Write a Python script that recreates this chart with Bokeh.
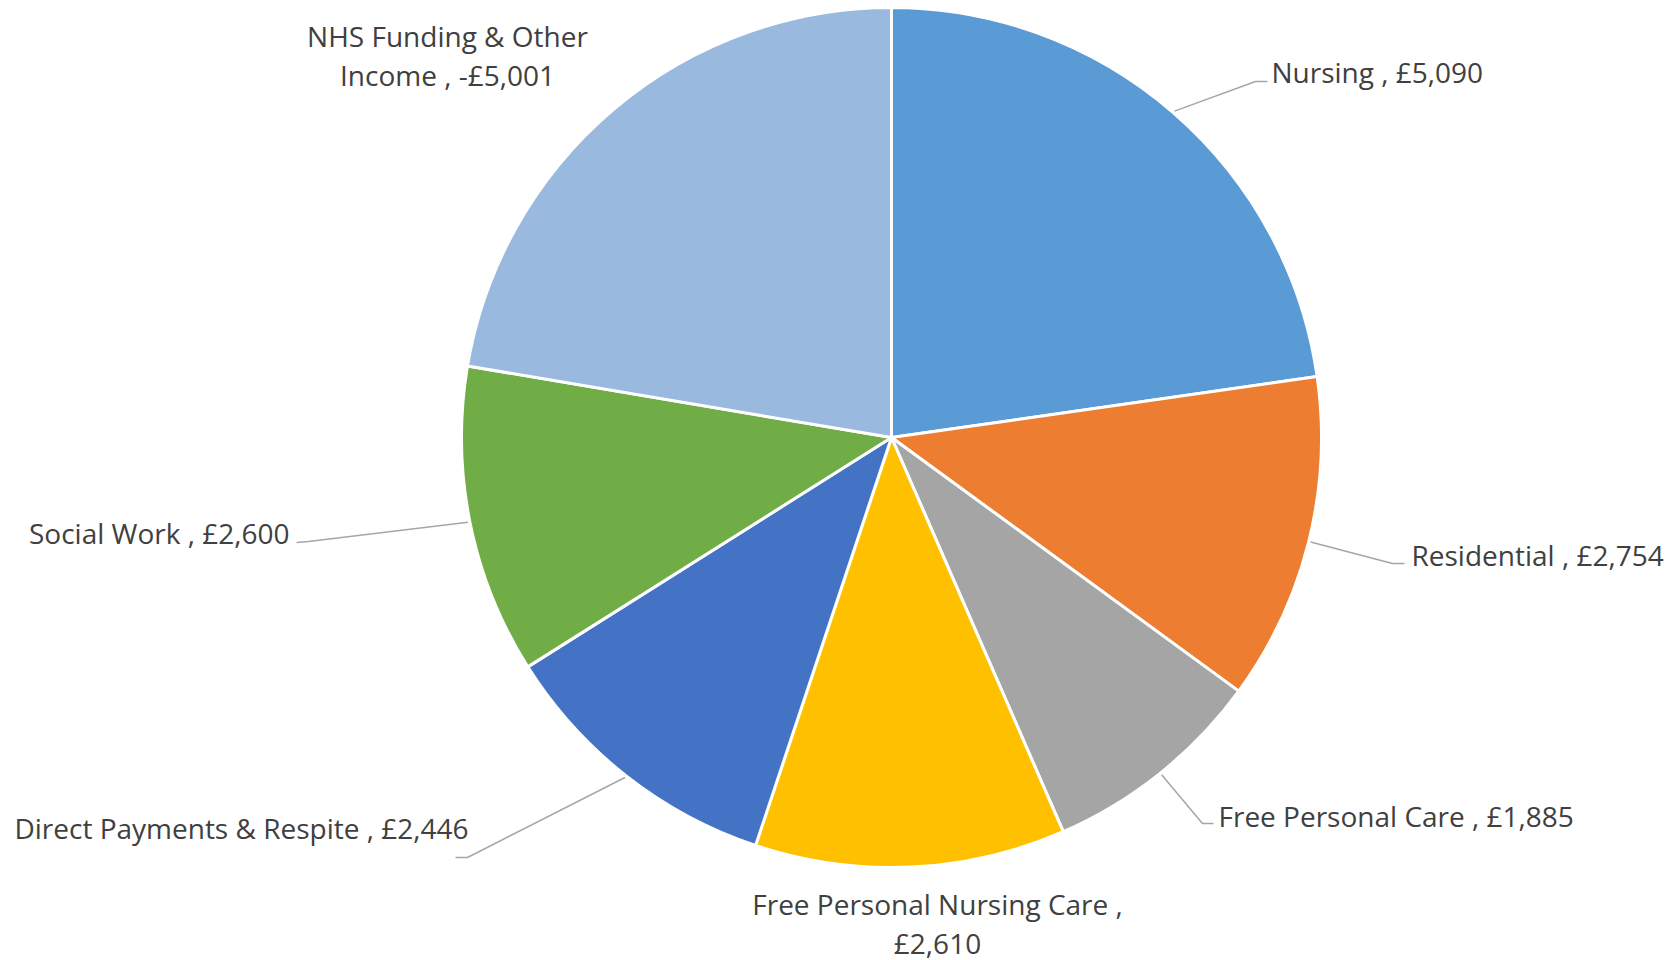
import math
from bokeh.plotting import figure
from bokeh.models import Range1d, ColumnDataSource
from bokeh.core.properties import value
from bokeh.embed import file_html
from bokeh.resources import INLINE

# ---------------- data ----------------
categories = ["Nursing", "Residential", "Free Personal Care", "Free Personal Nursing Care",
              "Direct Payments & Respite", "Social Work", "NHS Funding & Other Income"]
amounts = [5090, 2754, 1885, 2610, 2446, 2600, -5001]
colors = ["#5B9BD5", "#ED7D31", "#A5A5A5", "#FFC000", "#4472C4", "#70AD47", "#99B9DF"]

# label text lines (as shown in the chart)
def fmt(v):
    s = "£{:,}".format(abs(v))
    return ("-" + s) if v < 0 else s

label_lines = [
    ["Nursing , " + fmt(amounts[0])],
    ["Residential , " + fmt(amounts[1])],
    ["Free Personal Care , " + fmt(amounts[2])],
    ["Free Personal Nursing Care ,", fmt(amounts[3])],
    ["Direct Payments & Respite , " + fmt(amounts[4])],
    ["Social Work , " + fmt(amounts[5])],
    ["NHS Funding & Other", "Income , " + fmt(amounts[6])],
]

# ---------------- layout (screen px, y downward) ----------------
W, H = 1678, 960
CX, CY, R = 891, 437, 430
FONT = "Open Sans"
FSIZE = "28px"
TEXT_COLOR = "#404040"
LEADER_COLOR = "#A6A6A6"
LINE_GAP = 39
TEXT_DY = -10

# per label: anchor x, first baseline y, align, leader (elbow, end) or None
label_layout = [
    (1271, 81, "left", ((1255, 81), (1267, 81))),
    (1411, 564, "left", ((1392, 563), (1404, 563))),
    (1218, 825, "left", ((1202, 823), (1213, 823))),
    (937, 913, "center", None),
    (468, 837, "right", ((467, 857), (455, 857))),
    (289, 542, "right", ((308, 541), (296, 542))),
    (447, 45, "center", None),
]

p = figure(width=W, height=H, output_backend="svg", toolbar_location=None,
           x_range=Range1d(0, W), y_range=Range1d(-H, 0),
           min_border=0, outline_line_color=None, background_fill_color="white",
           border_fill_color="white")
p.axis.visible = False
p.grid.visible = False

total = sum(abs(v) for v in amounts)
starts, ends, mids = [], [], []
a = math.pi / 2
for v in amounts:
    sweep = abs(v) / total * 2 * math.pi
    starts.append(a)
    ends.append(a - sweep)
    mids.append(a - sweep / 2)
    a -= sweep

src = ColumnDataSource(dict(start=starts, end=ends, color=colors, cat=categories))
p.wedge(x=CX, y=-CY, radius=R, start_angle="start", end_angle="end", direction="clock",
        fill_color="color", line_color="white", line_width=3, source=src)

# leaders
for mid, lay in zip(mids, label_layout):
    leader = lay[3]
    if leader is None:
        continue
    sx = CX + (R + 2) * math.cos(mid)
    sy = CY - (R + 2) * math.sin(mid)
    (ex, ey), (fx, fy) = leader
    p.line([sx, ex, fx], [-sy, -ey, -fy], line_color=LEADER_COLOR, line_width=1.5)

# labels
for lines, lay in zip(label_lines, label_layout):
    x, y0, align, _ = lay
    for i, t in enumerate(lines):
        p.text(x=[x], y=[-(y0 + TEXT_DY + i * LINE_GAP)], text=[t], text_font=value(FONT),
               text_font_size=FSIZE, text_color=TEXT_COLOR, text_align=align,
               text_baseline="alphabetic")

open("out.html", "w").write(file_html(p, INLINE))
